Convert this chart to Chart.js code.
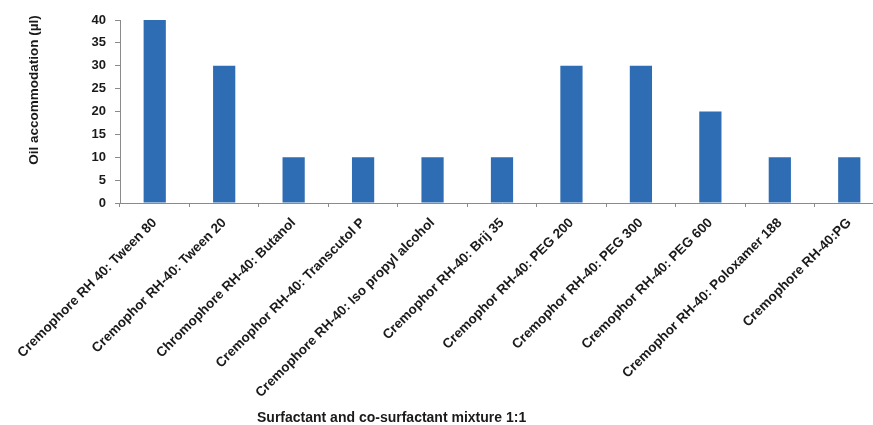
<!DOCTYPE html>
<html>
<head>
<meta charset="utf-8">
<script src="https://cdn.jsdelivr.net/npm/chart.js@4"></script>
<style>
    html, body { margin: 0; padding: 0; background: #fff; }
    #wrap { width: 873px; height: 425px; overflow: hidden; position: relative; }
    #chart { position: absolute; left: 0; top: 0; }
</style>
</head>
<body>
<div id="wrap"><canvas id="chart" width="884" height="425"></canvas></div>
<script>
// Oil accommodation per surfactant / co-surfactant pair (1:1)
const mixtures = [
    'Cremophore RH 40: Tween 80',
    'Cremophor RH-40: Tween 20',
    'Chromophore RH-40: Butanol',
    'Cremophor RH-40: Transcutol P',
    'Cremophore RH-40: Iso propyl alcohol',
    'Cremophor RH-40: Brij 35',
    'Cremophor RH-40: PEG 200',
    'Cremophor RH-40: PEG 300',
    'Cremophor RH-40: PEG 600',
    'Cremophor RH-40: Poloxamer 188',
    'Cremophore RH-40:PG'
];
const oilAccommodation = [40, 30, 10, 10, 10, 10, 30, 30, 20, 10, 10];
const yTicks = [0, 5, 10, 15, 20, 25, 30, 35, 40];

const FONT = 'Liberation Sans, Arial, sans-serif';
const AXIS_GRAY = '#8a8a8a';
const TEXT = '#1a1a1a';

// axis titles sit at fixed offsets from the plot area
const axisTitles = {
    id: 'axisTitles',
    afterDraw(chart) {
        const { ctx, chartArea } = chart;
        ctx.save();
        ctx.fillStyle = TEXT;
        ctx.textBaseline = 'middle';

        ctx.font = 'bold 14px ' + FONT;
        ctx.textAlign = 'left';
        ctx.fillText('Surfactant and co-surfactant mixture 1:1', chartArea.left + 137, 418);

        ctx.font = 'bold 13.5px ' + FONT;
        ctx.translate(34, chartArea.top + 70);
        ctx.rotate(-Math.PI / 2);
        ctx.textAlign = 'center';
        ctx.fillText('Oil accommodation (µl)', 0, 0);
        ctx.restore();
    }
};

new Chart(document.getElementById('chart'), {
    type: 'bar',
    data: {
        labels: mixtures,
        datasets: [{
            data: oilAccommodation,
            backgroundColor: '#2e6db4',
            borderWidth: 0,
            categoryPercentage: 1,
            barPercentage: 0.32
        }]
    },
    options: {
        responsive: false,
        animation: false,
        layout: { padding: { top: 20, right: 0, left: 0, bottom: 0 } },
        plugins: { legend: { display: false }, tooltip: { enabled: false } },
        scales: {
            x: {
                border: { color: AXIS_GRAY, width: 1 },
                grid: { drawOnChartArea: false, tickLength: 4, color: AXIS_GRAY, offset: true },
                ticks: {
                    minRotation: 45,
                    maxRotation: 45,
                    autoSkip: false,
                    padding: 8,
                    color: TEXT,
                    font: { family: FONT, size: 13.5, weight: 'bold' }
                },
                afterFit(scale) { scale.height = 222; }
            },
            y: {
                min: 0,
                max: 40,
                border: { color: AXIS_GRAY, width: 1 },
                grid: { drawOnChartArea: false, tickLength: 5, color: AXIS_GRAY },
                afterBuildTicks(scale) { scale.ticks = yTicks.map(v => ({ value: v })); },
                ticks: {
                    padding: 9,
                    color: TEXT,
                    font: { family: FONT, size: 13, weight: 'bold' }
                },
                afterFit(scale) { scale.width = 120; }
            }
        }
    },
    plugins: [axisTitles]
});
</script>
</body>
</html>
